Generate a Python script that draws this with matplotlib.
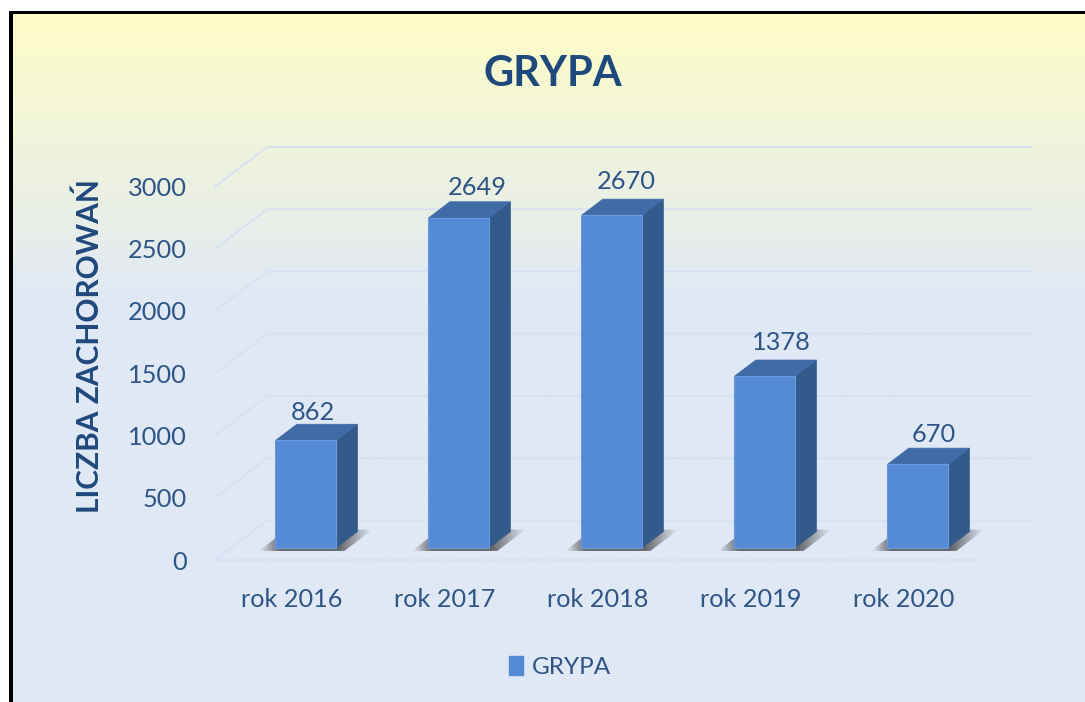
import numpy as np
import matplotlib
matplotlib.use("Agg")
import matplotlib.pyplot as plt
from matplotlib.patches import Polygon, Rectangle, Patch

plt.rcParams['font.family'] = ['Lato', 'DejaVu Sans']

categories = ["rok 2016", "rok 2017", "rok 2018", "rok 2019", "rok 2020"]
values = [862, 2649, 2670, 1378, 670]
yticks = [0, 500, 1000, 1500, 2000, 2500, 3000]
series_name = "GRYPA"
title = "GRYPA"
ylabel = "LICZBA ZACHOROWAŃ"

# hand placed data labels, in pixels from the top of the bar front
label_dx = [7, 18, 14, 17, 16]
label_dy = [28, 30, 34, 34, 30]

W, H = 1085, 702
TXT = "#2F5586"
DARK = "#1F497D"
GRID = "#D6E1F3"
FRONT = "#558AD6"
SIDE = "#325A8B"
TOP = "#3F6CA6"

fig = plt.figure(figsize=(W / 100, H / 100), dpi=100, facecolor="white")

# background gradient
bg = fig.add_axes([12 / W, 0, 1 - 12 / W, 1 - 14 / H], zorder=0)
t = np.clip(np.linspace(0, (H - 14) / 290, 300), 0, 1)[:, None, None]
c0 = np.array([254, 253, 200]) / 255
c1 = np.array([224, 232, 245]) / 255
bg.imshow(c0 * (1 - t) + c1 * t, aspect="auto")
bg.axis("off")

# border
fig.add_artist(Rectangle((9 / W, 0), 3.5 / W, 1 - 11 / H, transform=fig.transFigure, color="black", lw=0))
fig.add_artist(Rectangle((9 / W, 1 - 14 / H), 1 - 9 / W, 3.5 / H, transform=fig.transFigure, color="black", lw=0))

# axes is the front plane of the 3d box
left, right, y0, y3000 = 215, 980, 560, 186.5
ax = fig.add_axes([left / W, 1 - y0 / H, (right - left) / W, (y0 - y3000) / H], zorder=1)
ax.patch.set_visible(False)
ax.set_xlim(-0.5, len(values) - 0.5)
ax.set_ylim(0, 3000)

px_x = (right - left) / len(values)
px_y = (y0 - y3000) / 3000


def sh(x, y, d):
    # move a front plane point back into the box, d=1 is the back wall
    return x + d * 52 / px_x, y + d * 39.5 / px_y


# gridlines
x_a, x_b = ax.get_xlim()
for v in yticks:
    p0 = sh(x_a, v, 0)
    p1 = sh(x_a, v, 1)
    p2 = sh(x_b, v, 1)
    ax.plot([p0[0], p1[0], p2[0]], [p0[1], p1[1], p2[1]], color=GRID, lw=1.4, zorder=1, clip_on=False)
ax.plot([x_a, x_b], [0, 0], color=GRID, lw=1.4, zorder=1, clip_on=False)

hw = 0.198
d_front = 0.31
d_back = 0.72
x_pos = np.arange(len(values)) - 0.012

# shadows on the floor
for i in x_pos:
    pts = [sh(i - 0.28, 0, 0.23), sh(i + 0.28, 0, 0.23), sh(i + 0.28, 0, 0.77), sh(i - 0.28, 0, 0.77)]
    poly = Polygon(pts, closed=True, transform=ax.transData, fc="none", ec="none")
    ax.add_patch(poly)
    xs = [p[0] for p in pts]
    ramp = np.interp(np.linspace(0, 1, 64), [0, 0.18, 0.7, 1], [0, 0.85, 0.85, 0])
    img = np.zeros((1, 64, 4))
    img[..., :3] = 0.3
    img[..., 3] = ramp
    im = ax.imshow(img, extent=[min(xs), max(xs), pts[0][1], pts[2][1]], aspect="auto", zorder=2)
    im.set_clip_box(fig.bbox)
    im.set_clip_path(poly)

# bars
fx, fy = sh(0, 0, d_front)
bars = ax.bar(x_pos + fx, values, width=2 * hw, bottom=fy, color=FRONT, edgecolor="#6C9BDC", linewidth=0.8, zorder=4, label=series_name)
for n, (i, v) in enumerate(zip(x_pos, values)):
    a = sh(i + hw, v, d_front)
    b = sh(i + hw, v, d_back)
    c = sh(i + hw, 0, d_back)
    e = sh(i + hw, 0, d_front)
    ax.add_patch(Polygon([a, b, c, e], closed=True, fc=SIDE, ec=SIDE, lw=0.5, zorder=3, clip_on=False))
    g = sh(i - hw, v, d_back)
    h = sh(i - hw, v, d_front)
    ax.add_patch(Polygon([h, a, b, g], closed=True, fc=TOP, ec=TOP, lw=0.5, zorder=3, clip_on=False))
    ax.annotate(str(v), xy=sh(i, v, d_front), xytext=(label_dx[n] * 0.72, label_dy[n] * 0.72),
                textcoords="offset points", ha="center", va="center", fontsize=18.3, color=TXT, zorder=6)

ax.set_xticks(np.arange(len(values)), categories)
ax.set_yticks(yticks)
ax.tick_params(axis="x", length=0, pad=20, labelsize=18.2, labelcolor=TXT)
ax.tick_params(axis="y", length=0, pad=20, labelsize=18.3, labelcolor=TXT)
for s in ax.spines.values():
    s.set_visible(False)

fig.text(553 / W, 1 - 74 / H, title, fontsize=30, fontweight="bold", color=DARK, ha="center", va="center")
fig.text(90 / W, 1 - 346 / H, ylabel, fontsize=21.5, fontweight="bold", color=DARK, rotation=90, ha="center", va="center")

leg = fig.legend(handles=[Patch(color=FRONT, label=series_name)], loc="center", bbox_to_anchor=(560 / W, 1 - 667 / H),
                 frameon=False, fontsize=17.5, labelcolor=TXT, handlelength=0.55, handleheight=0.8, handletextpad=0.37)

fig.savefig("out.png", dpi=100)
